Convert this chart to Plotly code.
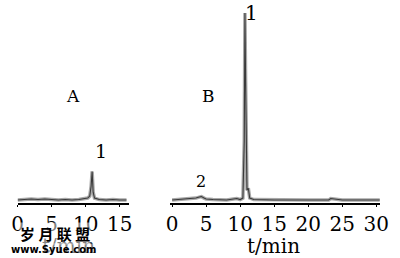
import plotly.graph_objects as go

W, H = 400, 258

# Chromatogram A (sample), time in min, relative intensity
t_a = [0, 1, 2, 3, 4, 5, 6, 7, 8, 9, 9.8, 10.3, 10.6, 10.8, 10.95, 11.1, 11.3, 11.6, 12, 13, 14, 15, 16]
y_a = [0, 0.5, 1, 0.5, 1, 0.5, 0, 0.5, 0, 0.5, 1, 2, 4, 14, 29, 8, 2, 1, 0.5, 0, 0.5, 0, 0]

# Chromatogram B (reference), time in min, relative intensity
t_b = [0, 1, 2, 3, 3.5, 4, 4.3, 4.7, 5, 6, 8, 9, 9.5, 10, 10.4, 10.6, 10.7, 10.8, 10.9, 11.0, 11.2, 11.4, 12, 15, 20, 23, 23.3, 25, 30, 30.5]
y_b = [0, 0.5, 1, 1.5, 2, 3, 3.5, 2, 1, 0.5, 0, 1, 1.5, 0.5, 2, 60, 190, 120, 15, 10, 12, 2, 0.5, 0, 0, 0, 1.5, 0, 0, 0]

ticks_a = [0, 5, 10, 15]
ticks_b = [0, 5, 10, 15, 20, 25, 30]

SERIF = "DejaVu Serif, Liberation Serif, serif"

def fx(px):
    return px / W

def fy(py):
    return 1 - py / H

fig = go.Figure()
for t, y, xa, ya in [(t_a, y_a, "x", "y"), (t_b, y_b, "x2", "y2")]:
    fig.add_trace(go.Scatter(x=t, y=y, mode="lines", xaxis=xa, yaxis=ya,
                             line=dict(color="#a8a8a8", width=3.5), hoverinfo="skip"))
    fig.add_trace(go.Scatter(x=t, y=y, mode="lines", xaxis=xa, yaxis=ya,
                             line=dict(color="#3a3a3a", width=1.1), hoverinfo="skip"))

font_t = dict(family=SERIF, size=20, color="black")
axis_common = dict(showgrid=False, zeroline=False, showline=True, linecolor="black",
                   linewidth=1.5, ticks="outside", ticklen=2, tickcolor="black",
                   tickfont=font_t, tickmode="array")
yb = fy(203)
yt = fy(8)
fig.update_layout(
    width=W, height=H, margin=dict(l=0, r=0, t=0, b=0),
    paper_bgcolor="white", plot_bgcolor="white", showlegend=False,
    xaxis=dict(domain=[fx(12), fx(127)], range=[0, 16.3], tickvals=ticks_a, anchor="y", **axis_common),
    yaxis=dict(domain=[yb, yt], range=[-3, 195], visible=False),
    xaxis2=dict(domain=[fx(170), fx(388)], range=[-0.3, 30.6], tickvals=ticks_b, anchor="y2", **axis_common),
    yaxis2=dict(domain=[yb, yt], range=[-3, 195], visible=False, anchor="x2"),
)

def ann(text, px, py, size=18, family=SERIF, **kw):
    fig.add_annotation(text=text, x=fx(px), y=fy(py), xref="paper", yref="paper",
                       xanchor="center", yanchor="middle", showarrow=False,
                       font=dict(family=family, size=size, color="black"), **kw)

ann("A", 69, 96, 17)
ann("B", 210, 96, 17)
ann("1", 98, 151, 19)
ann("1", 254, 13, 20)
ann("2", 202, 181, 16)
ann("t/min", 65, 246, 20)
ann("t/min", 277, 246, 20)
# watermark
ann("<b>岁 月 联 盟</b>", 51, 233, 15, family="Noto Sans CJK SC",
    bgcolor="rgba(255,255,255,0.5)", borderpad=0)
ann("<b>www.Syue.com</b>", 50, 249, 10, family="DejaVu Sans",
    bgcolor="rgba(255,255,255,0.5)", borderpad=0)

fig.write_html("out.html")
